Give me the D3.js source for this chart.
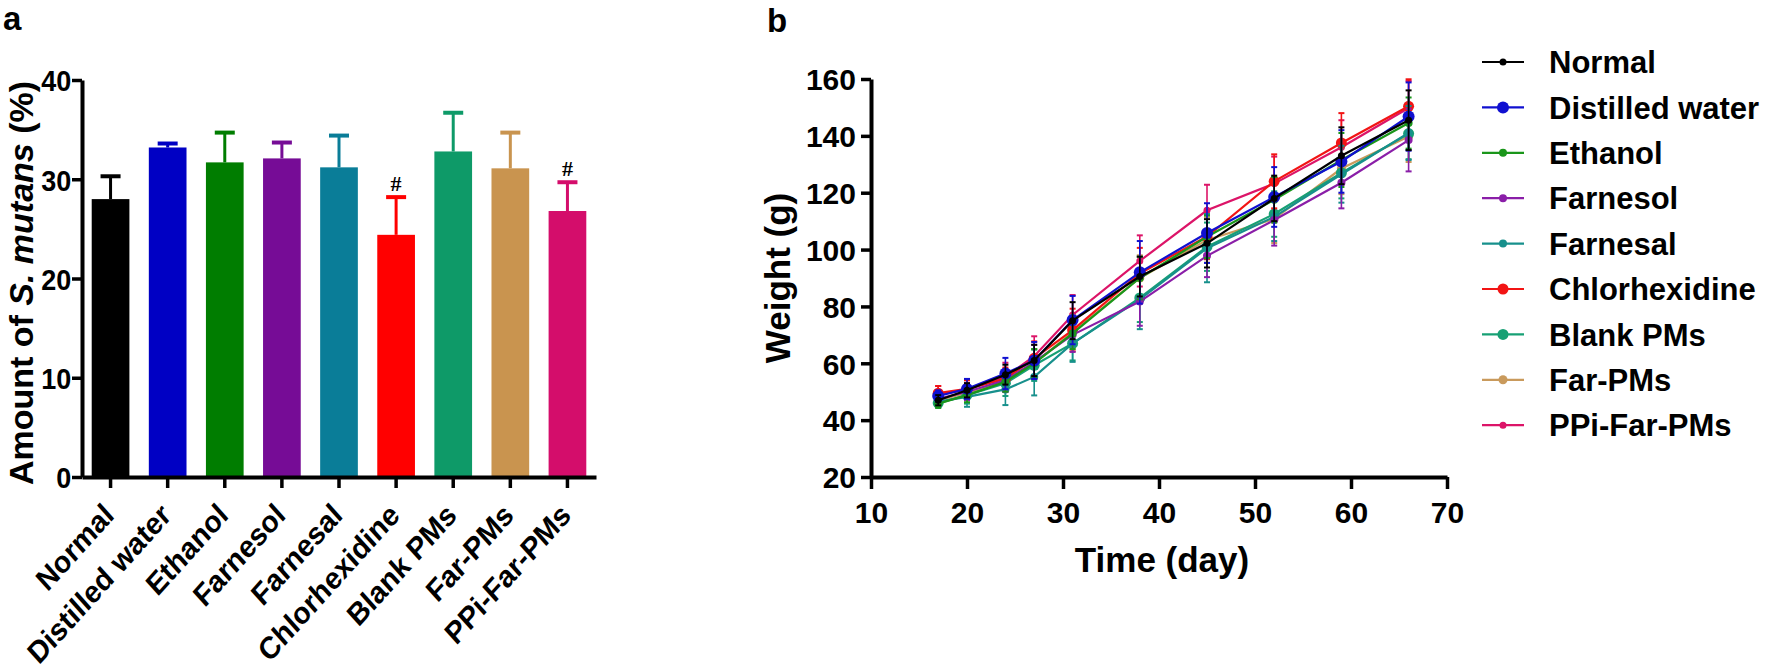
<!DOCTYPE html>
<html><head><meta charset="utf-8">
<script src="https://cdn.jsdelivr.net/npm/d3@7"></script>
<style>
body{margin:0;background:#fff}
svg{display:block}
text{font-family:"Liberation Sans",Arial,Helvetica,sans-serif;font-weight:bold;fill:#000}
</style>
</head><body>
<svg id="c" width="1769" height="671"></svg>
<script>
// ---------- Panel a data ----------
const categories = ["Normal","Distilled water","Ethanol","Farnesol","Farnesal","Chlorhexidine","Blank PMs","Far-PMs","PPi-Far-PMs"];
const barMeans  = [28.0, 33.2, 31.7, 32.1, 31.2, 24.4, 32.8, 31.1, 26.8];
const barErrors = [2.3, 0.4, 3.0, 1.6, 3.2, 3.8, 3.9, 3.6, 2.9];
const barSig    = ["", "", "", "", "", "#", "", "", "#"];
const barColors = ["#000000","#0000c4","#007d00","#760c96","#0a7d98","#ff0000","#0e9a68","#c9944f","#d40d6b"];
const barTicks  = [0, 10, 20, 30, 40];

// ---------- Panel b data ----------
const days = [17, 20, 24, 27, 31, 38, 45, 52, 59, 66];
const seriesNames = ["Normal","Distilled water","Ethanol","Farnesol","Farnesal","Chlorhexidine","Blank PMs","Far-PMs","PPi-Far-PMs"];
const wNormal    = [47.0, 50.5, 56.0, 61.0, 75.0, 90.5, 102.2, 118.0, 133.0, 145.5];
const wDistilled = [48.5, 51.0, 56.4, 61.0, 75.2, 92.0, 105.8, 118.5, 131.0, 146.8];
const wEthanol   = [45.8, 48.8, 53.5, 60.0, 70.5, 90.0, 104.5, 117.5, 131.5, 144.5];
const wFarnesol  = [47.5, 50.0, 54.0, 60.5, 70.0, 81.7, 97.8, 110.4, 123.5, 138.5];
const wFarnesal  = [46.5, 48.2, 50.8, 55.2, 67.0, 82.5, 100.5, 111.5, 126.5, 141.0];
const wChlorhex  = [49.5, 51.0, 54.5, 61.7, 71.7, 91.6, 104.6, 124.0, 137.5, 150.4];
const wBlank     = [46.0, 48.8, 53.0, 59.3, 67.0, 83.0, 101.0, 112.5, 127.0, 140.8];
const wFarPMs    = [47.0, 49.6, 53.5, 60.0, 71.0, 90.0, 103.4, 110.8, 128.5, 139.8];
const wPPi       = [49.0, 50.8, 55.2, 62.5, 77.0, 96.0, 113.8, 123.2, 136.0, 149.8];
const eNormal    = [1.8, 2.5, 3.5, 5.5, 6.5, 7.0, 8.5, 8.0, 10.0, 10.5];
const eDistilled = [2.0, 3.5, 5.5, 6.5, 8.5, 11.0, 10.5, 10.5, 11.0, 12.0];
const eEthanol   = [1.5, 2.5, 3.5, 5.0, 5.5, 7.5, 7.5, 8.0, 9.5, 9.0];
const eFarnesol  = [1.8, 3.0, 4.0, 6.0, 6.0, 8.5, 7.5, 9.0, 9.0, 11.0];
const eFarnesal  = [2.0, 3.5, 5.5, 6.5, 6.5, 10.5, 12.0, 8.5, 10.0, 9.5];
const eChlorhex  = [2.5, 3.0, 4.0, 6.0, 7.5, 9.0, 8.0, 9.5, 10.5, 9.5];
const eBlank     = [1.5, 3.0, 4.5, 5.5, 6.0, 8.5, 8.5, 8.0, 9.0, 9.0];
const eFarPMs    = [1.5, 2.5, 3.5, 5.0, 6.0, 8.0, 8.0, 8.5, 9.0, 9.0];
const ePPi       = [3.0, 3.5, 5.0, 7.0, 7.0, 9.0, 9.0, 9.5, 9.5, 9.5];
const lineColors = ["#000000","#1010d0","#1a961a","#8a1ea8","#17908c","#f21414","#17a074","#c99a5c","#dc1468"];
const markerR    = [3.5, 6, 4, 4, 4, 5.5, 5.5, 4.5, 3.5];
const xTicksB = [10, 20, 30, 40, 50, 60, 70];
const yTicksB = [20, 40, 60, 80, 100, 120, 140, 160];

const weights = [wNormal,wDistilled,wEthanol,wFarnesol,wFarnesal,wChlorhex,wBlank,wFarPMs,wPPi];
const errs = [eNormal,eDistilled,eEthanol,eFarnesol,eFarnesal,eChlorhex,eBlank,eFarPMs,ePPi];

const svg = d3.select("#c");
svg.append("rect").attr("width",1769).attr("height",671).attr("fill","#fff");

// ================= Panel a =================
const ga = svg.append("g");
const xa = d3.scaleBand().domain(categories).range([82, 596]).paddingInner(0.34).paddingOuter(0.17);
const ya = d3.scaleLinear().domain([0, 40]).range([477, 80]);

// error bars (upward only)
categories.forEach((c, i) => {
  const cx = xa(c) + xa.bandwidth()/2;
  const top = ya(barMeans[i] + barErrors[i]);
  ga.append("line").attr("x1",cx).attr("x2",cx).attr("y1",ya(barMeans[i])).attr("y2",top)
    .attr("stroke",barColors[i]).attr("stroke-width",3);
  ga.append("line").attr("x1",cx-10).attr("x2",cx+10).attr("y1",top).attr("y2",top)
    .attr("stroke",barColors[i]).attr("stroke-width",4);
  if (barSig[i]) {
    ga.append("text").attr("x",cx).attr("y",top-6).attr("text-anchor","middle")
      .style("font-family","'Liberation Serif','Times New Roman',serif").style("font-size","22px").text(barSig[i]);
  }
});
ga.selectAll("rect.bar").data(categories).enter().append("rect").attr("class","bar")
  .attr("x", d => xa(d)).attr("width", xa.bandwidth())
  .attr("y", (d,i) => ya(barMeans[i])).attr("height", (d,i) => ya(0) - ya(barMeans[i]))
  .attr("fill", (d,i) => barColors[i]);

const yAxisA = ga.append("g").attr("transform","translate(82,0)")
  .call(d3.axisLeft(ya).tickValues(barTicks).tickSize(10).tickPadding(2).tickSizeOuter(0));
const xAxisA = ga.append("g").attr("transform","translate(0,477)")
  .call(d3.axisBottom(xa).tickSize(11).tickSizeOuter(0).tickFormat(""));
[yAxisA, xAxisA].forEach(a => {
  a.select(".domain").attr("stroke","#000").attr("stroke-width",4);
  a.selectAll(".tick line").attr("stroke","#000").attr("stroke-width",3.5);
});
yAxisA.selectAll(".tick text").style("font-size","30px").attr("font-family",null).attr("dy","0.36em")
  .attr("transform","scale(0.9,1)");
// rotated category labels
categories.forEach((c) => {
  const cx = xa(c) + xa.bandwidth()/2;
  ga.append("text").attr("transform",`translate(${cx+5},517) scale(0.9,1) rotate(-45)`)
    .attr("text-anchor","end").style("font-size","31px").text(c);
});
// y title
const ta = ga.append("text").attr("transform","translate(33,283) rotate(-90)")
  .attr("text-anchor","middle").style("font-size","34px");
ta.append("tspan").text("Amount of ");
ta.append("tspan").style("font-style","italic").text("S. mutans");
ta.append("tspan").text(" (%)");
svg.append("text").attr("x",3).attr("y",30).style("font-size","33px").text("a");

// ================= Panel b =================
const gb = svg.append("g");
const xb = d3.scaleLinear().domain([10, 70]).range([871, 1447]);
const yb = d3.scaleLinear().domain([20, 160]).range([477, 79]);

const order = d3.range(seriesNames.length).reverse();
order.forEach(s => {
  const col = lineColors[s];
  const g = gb.append("g");
  days.forEach((d, k) => {
    const x = xb(d), y1 = yb(weights[s][k] - errs[s][k]), y2 = yb(weights[s][k] + errs[s][k]);
    g.append("line").attr("x1",x).attr("x2",x).attr("y1",y1).attr("y2",y2).attr("stroke",col).attr("stroke-width",1.6);
    g.append("line").attr("x1",x-3).attr("x2",x+3).attr("y1",y1).attr("y2",y1).attr("stroke",col).attr("stroke-width",2);
    g.append("line").attr("x1",x-3).attr("x2",x+3).attr("y1",y2).attr("y2",y2).attr("stroke",col).attr("stroke-width",2);
  });
  const line = d3.line().x((d,k) => xb(days[k])).y(d => yb(d));
  g.append("path").attr("d", line(weights[s])).attr("fill","none").attr("stroke",col).attr("stroke-width",2.2);
  g.selectAll("circle").data(weights[s]).enter().append("circle")
    .attr("cx",(d,k) => xb(days[k])).attr("cy", d => yb(d)).attr("r", markerR[s]).attr("fill", col);
});

const yAxisB = gb.append("g").attr("transform","translate(871,0)")
  .call(d3.axisLeft(yb).tickValues(yTicksB).tickSize(10).tickPadding(5).tickSizeOuter(0));
const xAxisB = gb.append("g").attr("transform","translate(0,477)")
  .call(d3.axisBottom(xb).tickValues(xTicksB).tickSize(12).tickPadding(12).tickSizeOuter(0));
[yAxisB, xAxisB].forEach(a => {
  a.select(".domain").attr("stroke","#000").attr("stroke-width",4);
  a.selectAll(".tick line").attr("stroke","#000").attr("stroke-width",3.5);
  a.selectAll(".tick text").style("font-size","30px").attr("font-family",null);
});
yAxisB.selectAll(".tick text").attr("dy","0.36em");
xAxisB.selectAll(".tick text").attr("dy","0.72em");

gb.append("text").attr("transform","translate(790,278) rotate(-90)").attr("text-anchor","middle")
  .style("font-size","35px").text("Weight (g)");
gb.append("text").attr("x",1162).attr("y",572).attr("text-anchor","middle")
  .style("font-size","35px").text("Time (day)");
svg.append("text").attr("x",767).attr("y",32).style("font-size","33px").text("b");

// legend
seriesNames.forEach((n, i) => {
  const y = 62 + i*45.4;
  gb.append("line").attr("x1",1482).attr("x2",1524).attr("y1",y).attr("y2",y).attr("stroke",lineColors[i]).attr("stroke-width",2.2);
  gb.append("circle").attr("cx",1503).attr("cy",y).attr("r",markerR[i]).attr("fill",lineColors[i]);
  gb.append("text").attr("x",1549).attr("y",y).attr("dy","0.36em").style("font-size","31px").text(n);
});
</script>
</body></html>
